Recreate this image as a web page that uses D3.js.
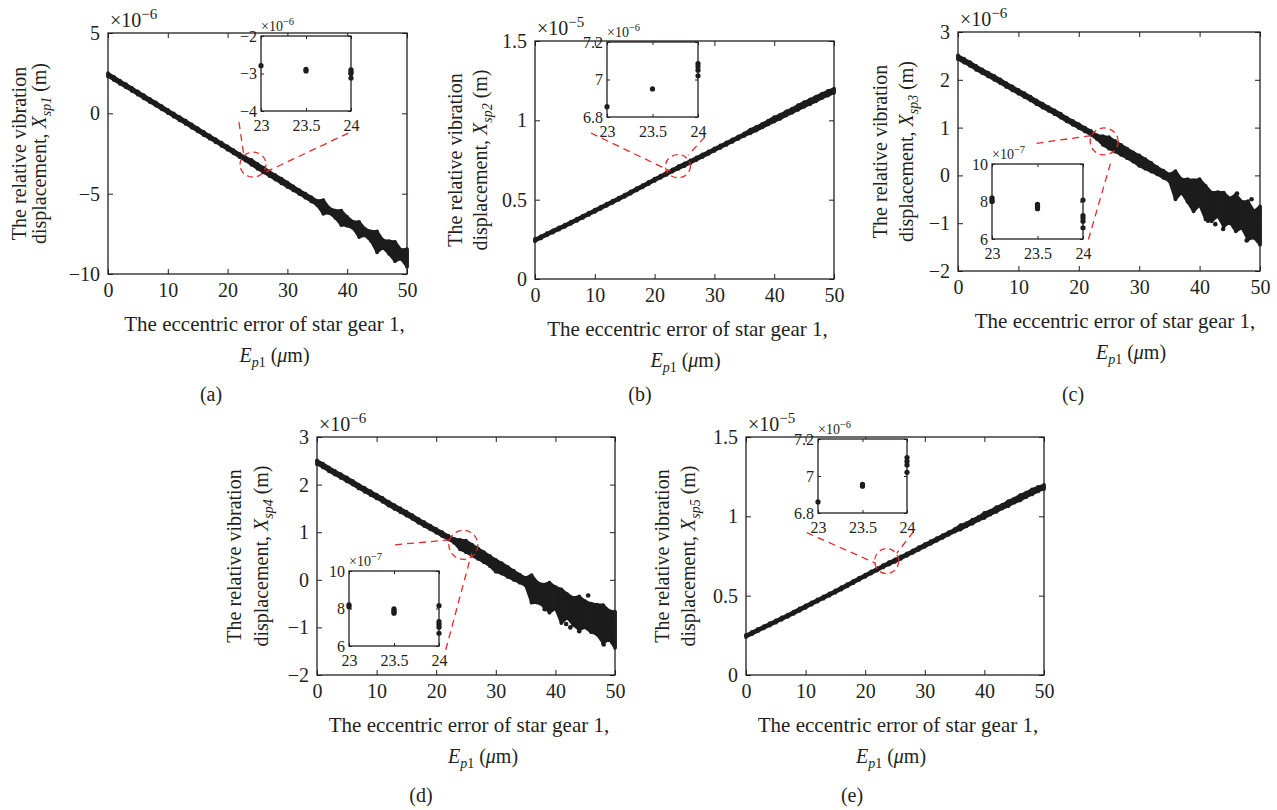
<!DOCTYPE html>
<html>
<head>
<meta charset="utf-8">
<script src="https://cdn.jsdelivr.net/npm/d3@7"></script>
<style>
  body { margin: 0; background: #fff; }
  svg text { font-family: "Liberation Serif", "Times New Roman", serif; fill: #231f20; }
  .tick line { stroke: #231f20; stroke-width: 1; }
  .main-ax text { font-size: 20px; }
  .inset-ax text { font-size: 16px; }
</style>
</head>
<body>
<svg id="fig" width="1277" height="810"></svg>
<script>
// eccentric error of star gear 1, E_p1 (um)
const epX = [0,1,2,3,4,5,6,7,8,9,10,11,12,13,14,15,16,17,18,19,20,21,22,23,24,25,
  26,27,28,29,30,31,32,33,34,35,36,37,38,39,40,41,42,43,44,45,46,47,48,49,50];
const mainXTicks = [0, 10, 20, 30, 40, 50];
const insetXTicks = [23, 23.5, 24];

// upper / lower edge of the scattered response at each E_p1 (x 1e-6 m)
const hiA = [2.50,2.27,2.04,1.82,1.59,1.36,1.13,0.90,0.68,0.45,0.22,-0.01,-0.24,-0.46,-0.69,-0.92,-1.15,
  -1.38,-1.60,-1.83,-2.06,-2.29,-2.52,-2.74,-2.90,-3.15,-3.38,-3.62,-3.85,-4.06,-4.30,-4.55,-4.78,-5.00,
  -5.22,-5.45,-5.40,-5.90,-6.05,-6.05,-6.45,-6.75,-6.75,-7.20,-7.35,-7.35,-7.90,-7.95,-8.00,-8.50,-8.45];
const loA = [2.30,2.07,1.84,1.62,1.39,1.16,0.93,0.70,0.48,0.25,0.02,-0.21,-0.44,-0.66,-0.89,-1.12,-1.35,
  -1.58,-1.80,-2.03,-2.26,-2.49,-2.72,-2.94,-3.20,-3.45,-3.68,-3.90,-4.12,-4.36,-4.58,-4.80,-5.02,-5.25,
  -5.48,-5.72,-6.25,-6.20,-6.50,-6.95,-7.00,-7.15,-7.70,-7.60,-7.95,-8.65,-8.35,-8.75,-9.20,-9.05,-9.55];

// (x 1e-5 m)
const hiB = [0.252,0.270,0.289,0.307,0.325,0.343,0.362,0.380,0.399,0.418,0.437,0.456,0.475,0.494,0.513,
  0.532,0.552,0.572,0.592,0.612,0.632,0.652,0.671,0.691,0.712,0.728,0.747,0.766,0.785,0.804,0.823,0.842,
  0.861,0.880,0.899,0.918,0.942,0.958,0.978,0.998,1.020,1.036,1.057,1.074,1.095,1.114,1.132,1.150,1.168,1.186,1.200];
const loB = [0.238,0.256,0.275,0.293,0.311,0.329,0.348,0.366,0.385,0.404,0.423,0.442,0.461,0.480,0.499,
  0.518,0.538,0.558,0.578,0.598,0.618,0.638,0.657,0.677,0.695,0.712,0.731,0.750,0.769,0.788,0.807,0.826,
  0.845,0.864,0.883,0.902,0.918,0.936,0.955,0.974,0.992,1.010,1.030,1.048,1.066,1.085,1.102,1.120,1.140,1.156,1.174];

// (x 1e-6 m)
const hiC = [2.51,2.44,2.37,2.29,2.22,2.15,2.08,2.01,1.93,1.86,1.79,1.72,1.65,1.57,1.50,1.43,1.36,1.29,1.21,
  1.14,1.07,1.00,0.93,0.84,0.82,0.80,0.72,0.64,0.56,0.48,0.42,0.34,0.26,0.17,0.10,0.02,0.09,-0.08,-0.08,
  -0.10,-0.08,-0.22,-0.36,-0.35,-0.36,-0.48,-0.40,-0.55,-0.54,-0.75,-0.65];
const loC = [2.43,2.36,2.29,2.21,2.14,2.07,2.00,1.93,1.85,1.78,1.71,1.64,1.57,1.49,1.42,1.35,1.28,1.21,1.13,
  1.06,0.99,0.92,0.85,0.76,0.64,0.56,0.50,0.43,0.36,0.29,0.20,0.14,0.08,0.02,-0.05,-0.12,-0.50,-0.36,-0.55,
  -0.75,-0.62,-0.92,-0.96,-0.85,-1.07,-0.98,-1.17,-1.10,-1.34,-1.30,-1.45];
const outCX = [38.8, 41.4, 42.6, 43.9, 46.2, 47.8, 48.6];
const outCY = [-0.62, -0.95, -1.02, -1.12, -0.38, -1.36, -0.50];

// (x 1e-6 m)
const hiD = [2.51,2.44,2.36,2.29,2.22,2.15,2.08,2.00,1.93,1.86,1.79,1.72,1.64,1.57,1.50,1.43,1.36,1.28,1.21,
  1.14,1.07,1.00,0.93,0.86,0.84,0.82,0.74,0.66,0.58,0.50,0.42,0.35,0.27,0.19,0.11,0.04,0.10,-0.06,-0.10,
  -0.06,-0.15,-0.20,-0.30,-0.38,-0.35,-0.45,-0.50,-0.52,-0.53,-0.65,-0.67];
const loD = [2.43,2.36,2.28,2.21,2.14,2.07,2.00,1.92,1.85,1.78,1.71,1.64,1.56,1.49,1.42,1.35,1.28,1.20,1.13,
  1.06,0.99,0.92,0.85,0.78,0.64,0.58,0.51,0.44,0.37,0.29,0.17,0.13,0.06,0.00,-0.06,-0.12,-0.48,-0.48,-0.55,
  -0.69,-0.60,-0.91,-0.80,-0.95,-1.05,-1.00,-1.10,-1.15,-1.33,-1.25,-1.43];
const outDX = [38.2, 41.8, 42.5, 44.0, 45.5, 48.1];
const outDY = [-0.62, -0.93, -1.00, -1.08, -0.33, -1.36];

// (x 1e-5 m)
const hiE = [0.253,0.271,0.290,0.308,0.326,0.344,0.363,0.381,0.400,0.419,0.438,0.457,0.476,0.495,0.514,
  0.533,0.553,0.573,0.593,0.613,0.633,0.653,0.672,0.692,0.712,0.729,0.748,0.767,0.786,0.805,0.824,0.843,
  0.862,0.881,0.900,0.919,0.945,0.957,0.979,0.996,1.022,1.035,1.058,1.073,1.096,1.112,1.134,1.149,1.170,1.185,1.198];
const loE = [0.239,0.257,0.276,0.294,0.312,0.330,0.349,0.367,0.386,0.405,0.424,0.443,0.462,0.481,0.500,
  0.519,0.539,0.559,0.579,0.599,0.619,0.639,0.658,0.678,0.696,0.713,0.732,0.751,0.770,0.789,0.808,0.827,
  0.846,0.865,0.884,0.903,0.917,0.937,0.954,0.975,0.990,1.011,1.028,1.049,1.064,1.086,1.100,1.121,1.138,1.157,1.173];

// zoomed samples between 23 and 24 um
const insAX = [23, 23.5, 23.5, 24, 24, 24, 24];
const insAY = [-2.79, -2.89, -2.93, -2.90, -2.95, -3.00, -3.12];
const insBX = [23, 23.5, 24, 24, 24, 24];
const insBY = [6.855, 6.95, 7.02, 7.05, 7.07, 7.085];
const insCX = [23, 23, 23, 23.5, 23.5, 23.5, 23.5, 24, 24, 24, 24, 24];
const insCY = [8.0, 8.1, 8.2, 7.62, 7.70, 7.78, 7.85, 8.08, 7.25, 7.12, 6.95, 6.60];
const insDX = [23, 23, 23.5, 23.5, 23.5, 23.5, 24, 24, 24, 24, 24];
const insDY = [8.1, 8.2, 7.75, 7.82, 7.90, 7.98, 8.15, 7.30, 7.15, 7.00, 6.68];
const insEX = [23, 23.5, 23.5, 24, 24, 24, 24];
const insEY = [6.86, 6.945, 6.955, 7.02, 7.06, 7.08, 7.10];

const ink = '#1c1c1c';
const red = '#e8282c';
const svg = d3.select('#fig');
const fmt = d => d < 0 ? '\u2212' + Math.abs(d) : String(d);

const panels = [
  { cap: '(a)', sub: 'sp1', exp: '\u22126', left: 108, top: 33, right: 407, bottom: 274,
    yDom: [-10, 5], yTicks: [-10, -5, 0, 5], hi: hiA, lo: loA, outX: [], outY: [],
    inset: { left: 261, top: 36, right: 351, bottom: 111, yDom: [-4, -2], yTicks: [-4, -3, -2],
             exp: '\u22126', x: insAX, y: insAY },
    ell: { cx: 24.25, cy: -3.19, rx: 13, ry: 12.5 },
    conn: [[21.9, -0.55, 22.75, -2.7], [40.2, -1.23, 25.7, -3.77]],
    ylab: [-89, -69], xlab: [7, 17], capPos: [211, 394] },
  { cap: '(b)', sub: 'sp2', exp: '\u22125', left: 535, top: 41, right: 834, bottom: 279,
    yDom: [0, 1.5], yTicks: [0, 0.5, 1, 1.5], hi: hiB, lo: loB, outX: [], outY: [],
    inset: { left: 607, top: 42, right: 698, bottom: 117, yDom: [6.8, 7.2], yTicks: [6.8, 7, 7.2],
             exp: '\u22126', x: insBX, y: insBY },
    ell: { cx: 23.9, cy: 0.711, rx: 12.5, ry: 11.5 },
    conn: [[9.36, 0.92, 22.6, 0.681], [28.4, 0.895, 25.6, 0.78]],
    ylab: [-80, -55], xlab: [3, 1], capPos: [640, 394] },
  { cap: '(c)', sub: 'sp3', exp: '\u22126', left: 958, top: 32, right: 1260, bottom: 271,
    yDom: [-2, 3], yTicks: [-2, -1, 0, 1, 2, 3], hi: hiC, lo: loC, outX: outCX, outY: outCY,
    inset: { left: 992, top: 164, right: 1083, bottom: 239, yDom: [6, 10], yTicks: [6, 8, 10],
             exp: '\u22127', x: insCX, y: insCY },
    ell: { cx: 24.2, cy: 0.71, rx: 14, ry: 13.5 },
    conn: [[13.0, 0.67, 22.4, 0.84], [21.6, -1.34, 25.4, 0.32]],
    ylab: [-78, -52], xlab: [6, 22], capPos: [1073, 394] },
  { cap: '(d)', sub: 'sp4', exp: '\u22126', left: 317, top: 437, right: 615, bottom: 675,
    yDom: [-2, 3], yTicks: [-2, -1, 0, 1, 2, 3], hi: hiD, lo: loD, outX: outDX, outY: outDY,
    inset: { left: 349, top: 571, right: 439, bottom: 646, yDom: [6, 10], yTicks: [6, 8, 10],
             exp: '\u22127', x: insDX, y: insDY },
    ell: { cx: 24.55, cy: 0.735, rx: 14.5, ry: 14.5 },
    conn: [[13.1, 0.735, 22.3, 0.84], [21.6, -1.47, 25.95, 0.56]],
    ylab: [-83, -56], xlab: [3, 17], capPos: [421, 795] },
  { cap: '(e)', sub: 'sp5', exp: '\u22125', left: 746, top: 437, right: 1044, bottom: 675,
    yDom: [0, 1.5], yTicks: [0, 0.5, 1, 1.5], hi: hiE, lo: loE, outX: [], outY: [],
    inset: { left: 818, top: 439, right: 907, bottom: 513, yDom: [6.8, 7.2], yTicks: [6.8, 7, 7.2],
             exp: '\u22126', x: insEX, y: insEY },
    ell: { cx: 23.6, cy: 0.718, rx: 12, ry: 12.5 },
    conn: [[10.2, 0.897, 21.8, 0.704], [28.1, 0.903, 25.3, 0.767]],
    ylab: [-84, -58], xlab: [3, -4], capPos: [852, 795] }
];

function frameAxes(g, x, y, r, yTicks, xTicks, tick, pad, xpad, cls) {
  const ax = g.append('g').attr('class', cls);
  ax.append('g').attr('transform', `translate(${r.left},0)`)
    .call(d3.axisLeft(y).tickValues(yTicks).tickSize(-tick).tickPadding(pad).tickFormat(fmt));
  ax.append('g').attr('transform', `translate(${r.right},0)`)
    .call(d3.axisRight(y).tickValues(yTicks).tickSize(-tick).tickFormat(''));
  ax.append('g').attr('transform', `translate(0,${r.bottom})`)
    .call(d3.axisBottom(x).tickValues(xTicks).tickSize(-tick).tickPadding(xpad).tickFormat(fmt));
  ax.append('g').attr('transform', `translate(0,${r.top})`)
    .call(d3.axisTop(x).tickValues(xTicks).tickSize(-tick).tickFormat(''));
  ax.selectAll('.domain').remove();
  ax.selectAll('g').attr('font-family', null).attr('font-size', null);
  g.append('rect')
    .attr('x', r.left).attr('y', r.top)
    .attr('width', r.right - r.left).attr('height', r.bottom - r.top)
    .attr('fill', 'none').attr('stroke', '#231f20').attr('stroke-width', 1.3);
}

function expLabel(g, x0, y0, size, exp) {
  const t = g.append('text').attr('x', x0).attr('y', y0).attr('font-size', size).text('\u00d710');
  t.append('tspan').attr('font-size', size * 0.75).attr('dy', -size * 0.4).text(exp);
}

function drawPanel(p) {
  const g = svg.append('g');
  const x = d3.scaleLinear().domain([0, 50]).range([p.left, p.right]);
  const y = d3.scaleLinear().domain(p.yDom).range([p.bottom, p.top]);

  // scattered response band
  const band = d3.area()
    .x((d, i) => x(epX[i]))
    .y0((d, i) => y(p.lo[i]))
    .y1((d, i) => y(p.hi[i]));
  g.append('path').datum(p.hi).attr('d', band)
    .attr('fill', ink).attr('stroke', ink)
    .attr('stroke-width', 2.6).attr('stroke-linejoin', 'round');

  // vertical spread of the samples at each E_p1
  g.selectAll(null).data(epX).join('line')
    .attr('x1', d => x(d)).attr('x2', d => x(d))
    .attr('y1', (d, i) => y(p.lo[i])).attr('y2', (d, i) => y(p.hi[i]))
    .attr('stroke', ink).attr('stroke-width', 3.8).attr('stroke-linecap', 'round');

  g.selectAll(null).data(p.outX).join('circle')
    .attr('cx', d => x(d)).attr('cy', (d, i) => y(p.outY[i]))
    .attr('r', 2.3).attr('fill', ink);

  frameAxes(g, x, y, p, p.yTicks, mainXTicks, 5, 8, 9, 'main-ax');
  expLabel(g, p.left + 2, p.top - 6, 20, p.exp);

  // zoom marker
  g.append('ellipse')
    .attr('cx', x(p.ell.cx)).attr('cy', y(p.ell.cy))
    .attr('rx', p.ell.rx).attr('ry', p.ell.ry)
    .attr('fill', 'none').attr('stroke', red)
    .attr('stroke-width', 1.3).attr('stroke-dasharray', '6,4');
  g.selectAll(null).data(p.conn).join('line')
    .attr('x1', d => x(d[0])).attr('y1', d => y(d[1]))
    .attr('x2', d => x(d[2])).attr('y2', d => y(d[3]))
    .attr('stroke', red).attr('stroke-width', 1.3).attr('stroke-dasharray', '7,5');

  // inset
  const ins = p.inset;
  const xi = d3.scaleLinear().domain([23, 24]).range([ins.left, ins.right]);
  const yi = d3.scaleLinear().domain(ins.yDom).range([ins.bottom, ins.top]);
  g.append('rect').attr('x', ins.left).attr('y', ins.top)
    .attr('width', ins.right - ins.left).attr('height', ins.bottom - ins.top).attr('fill', '#fff');
  g.selectAll(null).data(ins.x).join('circle')
    .attr('cx', d => xi(d)).attr('cy', (d, i) => yi(ins.y[i]))
    .attr('r', 2.6).attr('fill', ink);
  frameAxes(g, xi, yi, ins, ins.yTicks, insetXTicks, 3, 4, 9, 'inset-ax');
  expLabel(g, ins.left, ins.top - 5, 14, ins.exp);

  // y label
  const cy = (p.top + p.bottom) / 2;
  g.append('text')
    .attr('transform', `translate(${p.left + p.ylab[0]},${cy}) rotate(-90)`)
    .attr('text-anchor', 'middle').attr('dy', '0.33em').attr('font-size', 20)
    .text('The relative vibration');
  const yl = g.append('text')
    .attr('transform', `translate(${p.left + p.ylab[1]},${cy}) rotate(-90)`)
    .attr('text-anchor', 'middle').attr('dy', '0.33em').attr('font-size', 20);
  yl.append('tspan').text('displacement, ');
  yl.append('tspan').attr('font-style', 'italic').text('X');
  yl.append('tspan').attr('font-style', 'italic').attr('font-size', 14).attr('dy', 5).text(p.sub);
  yl.append('tspan').attr('dy', -5).text(' (m)');

  // x label
  const cx = (p.left + p.right) / 2;
  g.append('text').attr('x', cx + p.xlab[0]).attr('y', p.bottom + 57)
    .attr('text-anchor', 'middle').attr('font-size', 21)
    .text('The eccentric error of star gear 1,');
  const xl = g.append('text').attr('x', cx + p.xlab[1]).attr('y', p.bottom + 88)
    .attr('text-anchor', 'middle').attr('font-size', 20);
  xl.append('tspan').attr('font-style', 'italic').text('E');
  xl.append('tspan').attr('font-style', 'italic').attr('font-size', 14).attr('dy', 5).text('p');
  xl.append('tspan').attr('font-size', 14).text('1');
  xl.append('tspan').attr('dy', -5).text(' (');
  xl.append('tspan').attr('font-style', 'italic').text('\u03bc');
  xl.append('tspan').text('m)');

  svg.append('text').attr('x', p.capPos[0]).attr('y', p.capPos[1] + 7)
    .attr('text-anchor', 'middle').attr('font-size', 20).text(p.cap);
}

panels.forEach(drawPanel);
</script>
</body>
</html>
